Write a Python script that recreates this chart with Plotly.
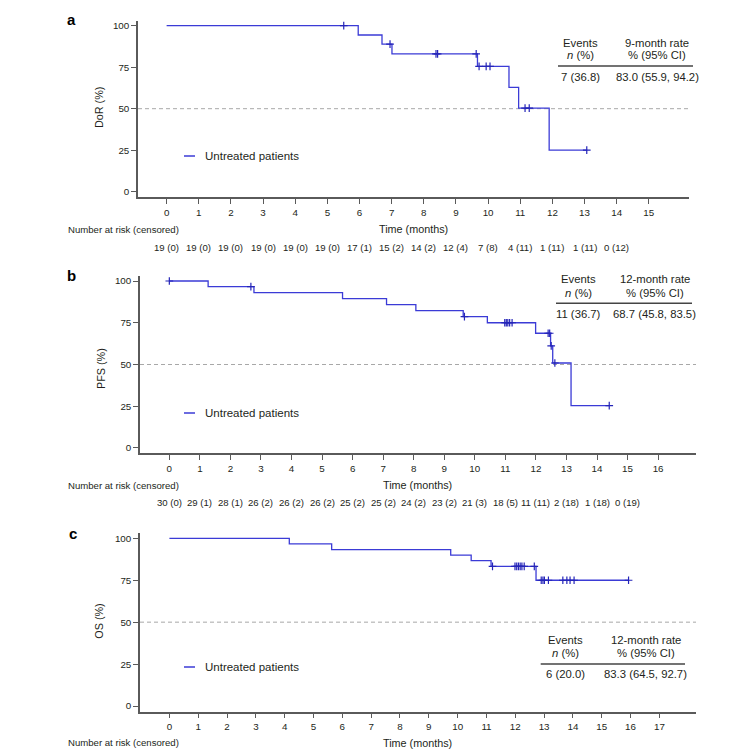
import plotly.graph_objects as go

W, H = 744, 751

# ---------------- data ----------------
# Panel a: duration of response (DoR)
dor_times = [0, 5.96, 6.70, 7.01, 9.67, 10.65, 10.95, 11.90, 13.07]
dor_surv = [100, 94.4, 88.9, 83.0, 75.5, 62.9, 50.3, 25.1, 25.1]
dor_cens_t = [5.51, 6.95, 8.38, 8.43, 9.63, 9.72, 9.94, 10.06, 11.15, 11.28, 13.07]
dor_cens_s = [100, 88.9, 83.0, 83.0, 83.0, 75.5, 75.5, 75.5, 50.3, 50.3, 25.1]
dor_ticks = list(range(0, 16))
dor_risk = ["19 (0)", "19 (0)", "19 (0)", "19 (0)", "19 (0)", "19 (0)", "17 (1)", "15 (2)",
            "14 (2)", "12 (4)", "7 (8)", "4 (11)", "1 (11)", "1 (11)", "0 (12)"]
dor_table = ["9-month rate", "7 (36.8)", "83.0 (55.9, 94.2)"]

# Panel b: progression-free survival (PFS)
pfs_times = [0, 1.27, 2.77, 5.67, 7.11, 8.07, 9.62, 10.41, 11.99, 12.48, 12.55, 13.15, 14.40]
pfs_surv = [100, 96.6, 93.0, 89.4, 85.8, 82.3, 78.7, 75.0, 68.7, 61.1, 50.9, 25.4, 25.4]
pfs_cens_t = [0.0, 2.67, 9.66, 10.98, 11.03, 11.08, 11.14, 11.22, 12.40, 12.45, 12.50, 12.62, 14.40]
pfs_cens_s = [100, 96.6, 78.7, 75.0, 75.0, 75.0, 75.0, 75.0, 68.7, 68.7, 61.1, 50.9, 25.4]
pfs_ticks = list(range(0, 17))
pfs_risk = ["30 (0)", "29 (1)", "28 (1)", "26 (2)", "26 (2)", "26 (2)", "25 (2)", "25 (2)",
            "24 (2)", "23 (2)", "21 (3)", "18 (5)", "11 (11)", "2 (18)", "1 (18)", "0 (19)"]
pfs_table = ["12-month rate", "11 (36.7)", "68.7 (45.8, 83.5)"]

# Panel c: overall survival (OS)
os_times = [0, 4.16, 5.63, 9.76, 10.47, 11.16, 12.72, 15.93]
os_surv = [100, 96.7, 93.3, 90.0, 86.7, 83.3, 75.0, 75.0]
os_cens_t = [11.21, 11.99, 12.05, 12.11, 12.17, 12.23, 12.31, 12.66,
             12.90, 12.96, 13.01, 13.15, 13.65, 13.79, 13.90, 14.04, 15.93]
os_cens_s = [83.3] * 8 + [75.0] * 9
os_ticks = list(range(0, 18))
os_table = ["12-month rate", "6 (20.0)", "83.3 (64.5, 92.7)"]

series_name = "Untreated patients"
y_titles = ["DoR (%)", "PFS (%)", "OS (%)"]
panel_letters = ["a", "b", "c"]
y_ticks = [0, 25, 50, 75, 100]

# ---------------- style ----------------
FONT = "Liberation Sans, Arial, sans-serif"
TXT = "#231f20"
LINE_COL = "#3b3bd6"
CENS_COL = "#2424b8"
AX_COL = "#5a5a5a"


def px(x):
    return x / W


def py(y):
    return 1 - y / H


panels = [
    dict(times=dor_times, surv=dor_surv, ct=dor_cens_t, cs=dor_cens_s, ticks=dor_ticks,
         risk=dor_risk, table=dor_table,
         xdom=(138, 689), ydom=(20.7, 197), xr=(-0.89, 16.25), yr=(-3.19, 103.0),
         letter=(71.7, 20), ytitle=(99, 108), legend_y=156,
         nar_y=229, risk_y=247.3,
         tab=dict(c1=580, c2=657, h1=42.7, h2=55, rule=66, row=77.3, r0=558, r1=693)),
    dict(times=pfs_times, surv=pfs_surv, ct=pfs_cens_t, cs=pfs_cens_s, ticks=pfs_ticks,
         risk=pfs_risk, table=pfs_table,
         xdom=(140, 696), ydom=(276, 453), xr=(-0.96, 17.24), yr=(-3.0, 103.0),
         letter=(71.7, 275), ytitle=(101.7, 368.3), legend_y=413,
         nar_y=485, risk_y=502.3,
         tab=dict(c1=578, c2=654.5, h1=279.3, h2=292.7, rule=303.3, row=314, r0=556, r1=692)),
    dict(times=os_times, surv=os_surv, ct=os_cens_t, cs=os_cens_s, ticks=os_ticks,
         risk=None, table=os_table,
         xdom=(140, 696), ydom=(533.3, 711.7), xr=(-1.02, 18.27), yr=(-3.4, 103.0),
         letter=(72.7, 533.3), ytitle=(99, 621.7), legend_y=667,
         nar_y=742.7, risk_y=None,
         tab=dict(c1=565, c2=645.7, h1=640, h2=653.3, rule=664, row=674, r0=540.7, r1=685)),
]

fig = go.Figure()
annotations = []
shapes = []
layout_axes = {}

for i, p in enumerate(panels):
    n = "" if i == 0 else str(i + 1)
    xa, ya = "x" + n, "y" + n
    # KM step curve
    fig.add_trace(go.Scatter(
        x=p["times"], y=p["surv"], mode="lines", line_shape="hv",
        line=dict(color=LINE_COL, width=1.3), name=series_name, showlegend=False,
        xaxis=xa, yaxis=ya, hoverinfo="skip"))
    # censor marks
    fig.add_trace(go.Scatter(
        x=p["ct"], y=p["cs"], mode="markers",
        marker=dict(symbol="cross-thin", size=5.5, line=dict(color=CENS_COL, width=1.2)),
        showlegend=False, xaxis=xa, yaxis=ya, hoverinfo="skip"))

    layout_axes["xaxis" + n] = dict(
        domain=[px(p["xdom"][0]), px(p["xdom"][1])], anchor=ya, range=list(p["xr"]),
        tickmode="array", tickvals=p["ticks"], ticktext=[str(t) for t in p["ticks"]],
        ticks="outside", ticklen=5, tickwidth=1, tickcolor=AX_COL,
        showline=True, linecolor=AX_COL, linewidth=1.5, showgrid=False, zeroline=False,
        tickfont=dict(family=FONT, size=9.8, color=TXT))
    layout_axes["yaxis" + n] = dict(
        domain=[py(p["ydom"][1]), py(p["ydom"][0])], anchor=xa, range=list(p["yr"]),
        tickmode="array", tickvals=y_ticks, ticktext=[str(t) for t in y_ticks],
        ticks="outside", ticklen=5, tickwidth=1, tickcolor=AX_COL,
        showline=True, linecolor=AX_COL, linewidth=1.5, showgrid=False, zeroline=False,
        tickfont=dict(family=FONT, size=9.8, color=TXT))

    # dashed median line
    shapes.append(dict(type="line", xref=xa + " domain", yref=ya, x0=0, x1=1, y0=50, y1=50,
                       line=dict(color="#a8a8a8", width=1, dash="4px,3px"), layer="below"))

    # panel letter
    annotations.append(dict(text="<b>%s</b>" % panel_letters[i], x=px(p["letter"][0]),
                            y=py(p["letter"][1]), xref="paper", yref="paper",
                            xanchor="center", yanchor="middle", showarrow=False,
                            font=dict(family=FONT, size=15, color="#000")))
    # y title
    annotations.append(dict(text=y_titles[i], x=px(p["ytitle"][0]), y=py(p["ytitle"][1]),
                            xref="paper", yref="paper", xanchor="center", yanchor="middle",
                            textangle=-90, showarrow=False,
                            font=dict(family=FONT, size=10.8, color=TXT)))
    # legend (short line + label)
    shapes.append(dict(type="line", xref="paper", yref="paper", x0=px(184), x1=px(195),
                       y0=py(p["legend_y"]), y1=py(p["legend_y"]),
                       line=dict(color=LINE_COL, width=1.5)))
    annotations.append(dict(text=series_name, x=px(203), y=py(p["legend_y"]),
                            xref="paper", yref="paper", xanchor="left", yanchor="middle",
                            showarrow=False, font=dict(family=FONT, size=11.5, color=TXT)))

    # x title and number at risk label
    xc = (p["xdom"][0] + p["xdom"][1]) / 2
    annotations.append(dict(text="Time (months)", x=px(xc), y=py(p["nar_y"]),
                            xref="paper", yref="paper", xanchor="center", yanchor="middle",
                            showarrow=False, font=dict(family=FONT, size=10.8, color=TXT)))
    annotations.append(dict(text="Number at risk (censored)", x=px(66), y=py(p["nar_y"]),
                            xref="paper", yref="paper", xanchor="left", yanchor="middle",
                            showarrow=False, font=dict(family=FONT, size=9.6, color=TXT)))
    if p["risk"]:
        for k, r in enumerate(p["risk"]):
            annotations.append(dict(text=r, x=p["ticks"][k], y=py(p["risk_y"]),
                                    xref=xa, yref="paper", xanchor="center", yanchor="middle",
                                    showarrow=False,
                                    font=dict(family=FONT, size=9.6, color=TXT)))

    # summary table
    t = p["tab"]
    tf = dict(family=FONT, size=11.3, color=TXT)
    for text, x, y in [("Events", t["c1"], t["h1"]), ("<i>n</i> (%)", t["c1"], t["h2"]),
                       (p["table"][0], t["c2"], t["h1"]), ("% (95% CI)", t["c2"], t["h2"]),
                       (p["table"][1], t["c1"], t["row"]), (p["table"][2], t["c2"], t["row"])]:
        annotations.append(dict(text=text, x=px(x), y=py(y), xref="paper", yref="paper",
                                xanchor="center", yanchor="middle", showarrow=False, font=tf))
    shapes.append(dict(type="line", xref="paper", yref="paper", x0=px(t["r0"]), x1=px(t["r1"]),
                       y0=py(t["rule"]), y1=py(t["rule"]),
                       line=dict(color="#444", width=1.5)))

fig.update_layout(
    width=W, height=H, margin=dict(l=0, r=0, t=0, b=0),
    paper_bgcolor="white", plot_bgcolor="white", showlegend=False,
    annotations=annotations, shapes=shapes,
    font=dict(family=FONT, color=TXT),
    **layout_axes)

fig.write_html("out.html")
